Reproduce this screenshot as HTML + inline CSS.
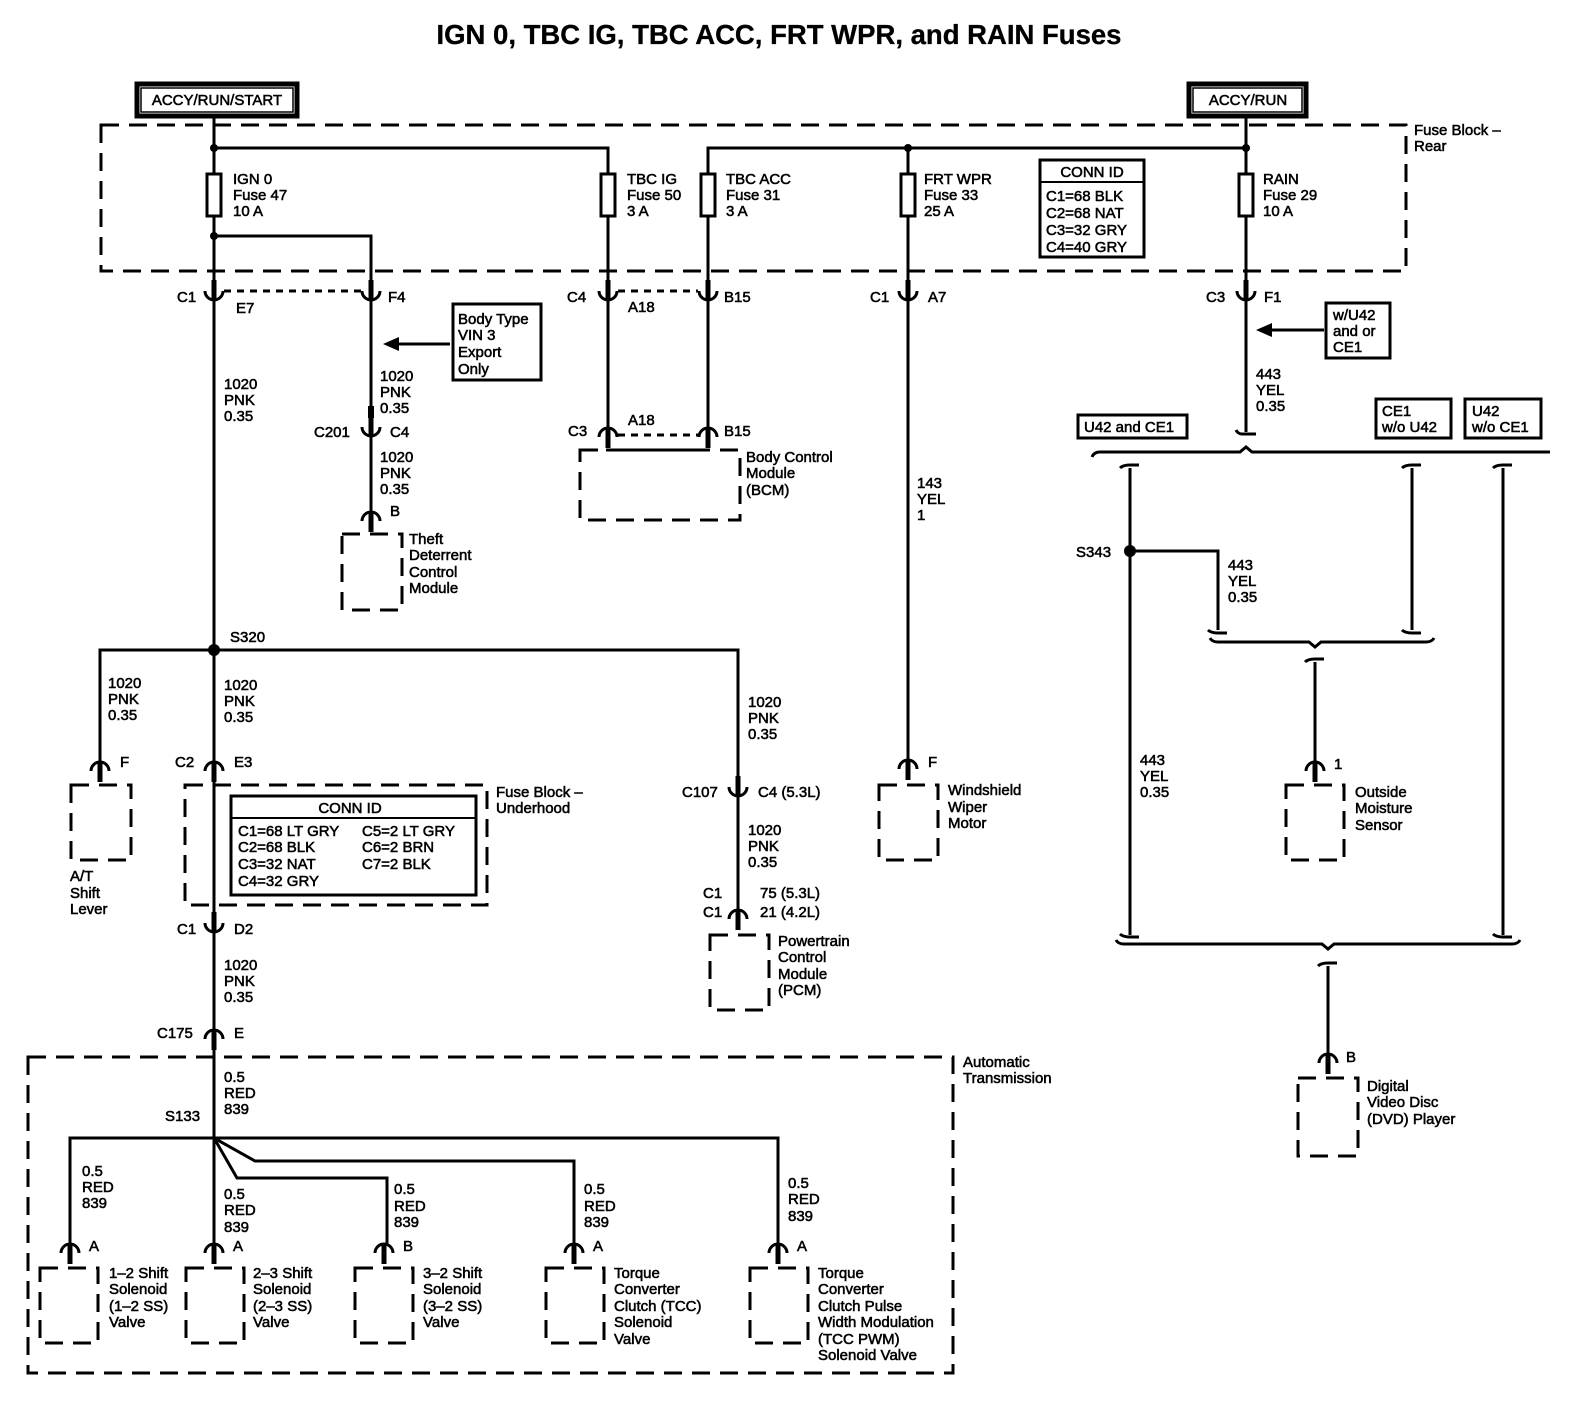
<!DOCTYPE html>
<html><head><meta charset="utf-8"><style>
html,body{margin:0;padding:0;background:#fff;}
svg{display:block;}
text{font-family:"Liberation Sans",Arial,sans-serif;font-size:15px;fill:#000;stroke:#000;stroke-width:0.55;}
.t{font-size:27.5px;font-weight:bold;stroke-width:0.3;}
.w{stroke:#000;stroke-width:3;fill:none;}
.d{stroke:#000;stroke-width:3;fill:none;stroke-dasharray:18 10;}
.sd{stroke:#000;stroke-width:3;fill:none;stroke-dasharray:7 6;}
</style></head><body>
<svg width="1578" height="1408" viewBox="0 0 1578 1408" xmlns="http://www.w3.org/2000/svg">
<defs>
<g id="cu"><path d="M-9,-5 A9,9 0 0 0 9,-5" stroke="#000" stroke-width="3" fill="none"/><line x1="0" y1="-16" x2="0" y2="4" stroke="#000" stroke-width="5"/></g>
<g id="ca"><path d="M-9,5 A9,9 0 0 1 9,5" stroke="#000" stroke-width="3" fill="none"/><line x1="0" y1="-4" x2="0" y2="16" stroke="#000" stroke-width="5"/></g>
<g id="fu"><rect x="-7" y="0" width="14" height="42" fill="#fff" stroke="#000" stroke-width="3"/></g>
<g id="bb"><path d="M-10,0 q2,4 6,4 h14" stroke="#000" stroke-width="3" fill="none"/></g>
</defs>

<text class="t" x="779" y="44" text-anchor="middle">IGN 0, TBC IG, TBC ACC, FRT WPR, and RAIN Fuses</text>

<rect x="137" y="84" width="160" height="32" fill="#fff" stroke="#000" stroke-width="5"/>
<rect x="141" y="88" width="152" height="24" fill="none" stroke="#000" stroke-width="1.5"/>
<text x="217" y="105" text-anchor="middle">ACCY/RUN/START</text>
<rect x="1189" y="84" width="117" height="32" fill="#fff" stroke="#000" stroke-width="5"/>
<rect x="1193" y="88" width="109" height="24" fill="none" stroke="#000" stroke-width="1.5"/>
<text x="1248" y="105" text-anchor="middle">ACCY/RUN</text>

<rect x="101" y="125" width="1305" height="146" class="d"/>
<text x="1414" y="135">Fuse Block –</text><text x="1414" y="151">Rear</text>

<path class="w" d="M214,118 V1138 M214,148 H608 V290 M708,290 V148 H1246 M1246,118 V290 M908,148 V290 M214,236 H371 V290"/>
<circle cx="214" cy="148" r="4"/><circle cx="908" cy="148" r="4"/><circle cx="1246" cy="148" r="4"/><circle cx="214" cy="236" r="4"/>
<use href="#fu" x="214" y="174"/><use href="#fu" x="608" y="174"/><use href="#fu" x="708" y="174"/><use href="#fu" x="908" y="174"/><use href="#fu" x="1246" y="174"/>
<text x="233" y="184">IGN 0</text><text x="233" y="200">Fuse 47</text><text x="233" y="216">10 A</text>
<text x="627" y="184">TBC IG</text><text x="627" y="200">Fuse 50</text><text x="627" y="216">3 A</text>
<text x="726" y="184">TBC ACC</text><text x="726" y="200">Fuse 31</text><text x="726" y="216">3 A</text>
<text x="924" y="184">FRT WPR</text><text x="924" y="200">Fuse 33</text><text x="924" y="216">25 A</text>
<text x="1263" y="184">RAIN</text><text x="1263" y="200">Fuse 29</text><text x="1263" y="216">10 A</text>

<rect x="1040" y="160" width="104" height="97" fill="#fff" stroke="#000" stroke-width="3"/>
<line x1="1040" y1="182" x2="1144" y2="182" stroke="#000" stroke-width="2"/>
<text x="1092" y="177" text-anchor="middle">CONN ID</text>
<text x="1046" y="201">C1=68 BLK</text><text x="1046" y="218">C2=68 NAT</text><text x="1046" y="235">C3=32 GRY</text><text x="1046" y="252">C4=40 GRY</text>

<line x1="224" y1="291" x2="362" y2="291" class="sd"/>
<line x1="618" y1="291" x2="698" y2="291" class="sd"/>
<use href="#cu" x="214" y="296"/><use href="#cu" x="371" y="296"/><use href="#cu" x="608" y="296"/><use href="#cu" x="708" y="296"/><use href="#cu" x="908" y="296"/><use href="#cu" x="1246" y="296"/>
<text x="177" y="302">C1</text><text x="236" y="313">E7</text><text x="388" y="302">F4</text>
<text x="567" y="302">C4</text><text x="628" y="312">A18</text><text x="724" y="302">B15</text>
<text x="870" y="302">C1</text><text x="928" y="302">A7</text>
<text x="1206" y="302">C3</text><text x="1264" y="302">F1</text>

<text x="224" y="389">1020</text><text x="224" y="405">PNK</text><text x="224" y="421">0.35</text>

<path class="w" d="M371,300 V515"/>
<line x1="371" y1="406" x2="371" y2="418" stroke="#000" stroke-width="6"/>
<rect x="453" y="304" width="88" height="76" fill="#fff" stroke="#000" stroke-width="3"/>
<text x="458" y="324">Body Type</text><text x="458" y="340">VIN 3</text><text x="458" y="357">Export</text><text x="458" y="374">Only</text>
<line x1="450" y1="344" x2="395" y2="344" stroke="#000" stroke-width="3"/><polygon points="383,344 399,337 399,351"/>
<text x="380" y="381">1020</text><text x="380" y="397">PNK</text><text x="380" y="413">0.35</text>
<use href="#cu" x="371" y="432"/>
<text x="314" y="437">C201</text><text x="390" y="437">C4</text>
<text x="380" y="462">1020</text><text x="380" y="478">PNK</text><text x="380" y="494">0.35</text>
<use href="#ca" x="371" y="516"/><text x="390" y="516">B</text>
<rect x="342" y="534" width="60" height="76" class="d" stroke-dasharray="14 10"/>
<text x="409" y="544">Theft</text><text x="409" y="560">Deterrent</text><text x="409" y="577">Control</text><text x="409" y="593">Module</text>

<path class="w" d="M608,300 V430 M708,300 V430"/>
<line x1="618" y1="435" x2="698" y2="435" class="sd"/>
<use href="#ca" x="608" y="432"/><use href="#ca" x="708" y="432"/>
<text x="568" y="436">C3</text><text x="628" y="425">A18</text><text x="724" y="436">B15</text>
<line x1="606" y1="450" x2="710" y2="450" stroke="#000" stroke-width="3"/>
<rect x="580" y="450" width="160" height="70" class="d" stroke-dasharray="14 10"/>
<text x="746" y="462">Body Control</text><text x="746" y="478">Module</text><text x="746" y="495">(BCM)</text>

<path class="w" d="M908,300 V762"/>
<text x="917" y="488">143</text><text x="917" y="504">YEL</text><text x="917" y="520">1</text>
<use href="#ca" x="908" y="764"/><text x="928" y="767">F</text>
<rect x="879" y="785" width="59" height="75" class="d" stroke-dasharray="14 10"/>
<text x="948" y="795">Windshield</text><text x="948" y="812">Wiper</text><text x="948" y="828">Motor</text>

<path class="w" d="M1246,300 V432"/>
<use href="#bb" x="1246" y="430"/>
<rect x="1326" y="303" width="64" height="55" fill="#fff" stroke="#000" stroke-width="3"/>
<text x="1333" y="320">w/U42</text><text x="1333" y="336">and or</text><text x="1333" y="352">CE1</text>
<line x1="1324" y1="330" x2="1268" y2="330" stroke="#000" stroke-width="3"/><polygon points="1256,330 1272,323 1272,337"/>
<text x="1256" y="379">443</text><text x="1256" y="395">YEL</text><text x="1256" y="411">0.35</text>
<rect x="1078" y="415" width="109" height="23" fill="#fff" stroke="#000" stroke-width="3"/><text x="1084" y="432">U42 and CE1</text>
<rect x="1376" y="399" width="75" height="39" fill="#fff" stroke="#000" stroke-width="3"/><text x="1382" y="416">CE1</text><text x="1382" y="432">w/o U42</text>
<rect x="1465" y="399" width="76" height="39" fill="#fff" stroke="#000" stroke-width="3"/><text x="1472" y="416">U42</text><text x="1472" y="432">w/o CE1</text>
<path class="w" d="M1092,457 q2,-5 8,-5 H1240 l6,-5 l6,5 H1550"/>
<path class="w" d="M1130,468 V935 M1412,468 V630 M1503,468 V935 M1130,551 H1218 V630"/>
<path class="w" d="M1120,468 q3,-3 10,-3 h9 M1402,468 q3,-3 10,-3 h9 M1493,468 q3,-3 10,-3 h9"/>
<path class="w" d="M1208,630 q3,3 10,3 h9 M1402,630 q3,3 10,3 h9 M1120,934 q3,3 10,3 h9 M1493,934 q3,3 10,3 h9"/>
<circle cx="1130" cy="551" r="6"/>
<text x="1076" y="557">S343</text>
<text x="1228" y="570">443</text><text x="1228" y="586">YEL</text><text x="1228" y="602">0.35</text>
<path class="w" d="M1210,638 q2,4 8,4 H1309 l6,5 l6,-5 H1426 q6,0 8,-4"/>
<path class="w" d="M1315,662 V764 M1305,662 q3,-3 10,-3 h9"/>
<use href="#ca" x="1315" y="766"/><text x="1334" y="769">1</text>
<rect x="1286" y="785" width="58" height="75" class="d" stroke-dasharray="14 10"/>
<text x="1355" y="797">Outside</text><text x="1355" y="813">Moisture</text><text x="1355" y="830">Sensor</text>
<text x="1140" y="765">443</text><text x="1140" y="781">YEL</text><text x="1140" y="797">0.35</text>
<path class="w" d="M1116,940 q2,4 8,4 H1322 l6,5 l6,-5 H1512 q6,0 8,-4"/>
<path class="w" d="M1328,966 V1056 M1318,966 q3,-3 10,-3 h9"/>
<use href="#ca" x="1328" y="1058"/><text x="1346" y="1062">B</text>
<rect x="1298" y="1078" width="60" height="78" class="d" stroke-dasharray="14 10"/>
<text x="1367" y="1091">Digital</text><text x="1367" y="1107">Video Disc</text><text x="1367" y="1124">(DVD) Player</text>

<circle cx="214" cy="650" r="6"/>
<text x="230" y="642">S320</text>
<path class="w" d="M100,764 V650 H738 V790"/>
<text x="108" y="688">1020</text><text x="108" y="704">PNK</text><text x="108" y="720">0.35</text>
<text x="224" y="690">1020</text><text x="224" y="706">PNK</text><text x="224" y="722">0.35</text>
<text x="748" y="707">1020</text><text x="748" y="723">PNK</text><text x="748" y="739">0.35</text>
<use href="#ca" x="100" y="766"/><text x="120" y="767">F</text>
<rect x="71" y="785" width="60" height="75" class="d" stroke-dasharray="14 10"/>
<text x="70" y="881">A/T</text><text x="70" y="898">Shift</text><text x="70" y="914">Lever</text>
<use href="#ca" x="214" y="766"/><text x="175" y="767">C2</text><text x="234" y="767">E3</text>

<rect x="185" y="785" width="302" height="120" class="d" stroke-dasharray="14 10"/>
<text x="496" y="797">Fuse Block –</text><text x="496" y="813">Underhood</text>
<rect x="231" y="796" width="245" height="99" fill="#fff" stroke="#000" stroke-width="3"/>
<line x1="231" y1="818" x2="476" y2="818" stroke="#000" stroke-width="2"/>
<text x="350" y="813" text-anchor="middle">CONN ID</text>
<text x="238" y="836">C1=68 LT GRY</text><text x="362" y="836">C5=2 LT GRY</text>
<text x="238" y="852">C2=68 BLK</text><text x="362" y="852">C6=2 BRN</text>
<text x="238" y="869">C3=32 NAT</text><text x="362" y="869">C7=2 BLK</text>
<text x="238" y="886">C4=32 GRY</text>

<use href="#cu" x="214" y="928"/><text x="177" y="934">C1</text><text x="234" y="934">D2</text>
<text x="224" y="970">1020</text><text x="224" y="986">PNK</text><text x="224" y="1002">0.35</text>
<use href="#ca" x="214" y="1034"/><text x="157" y="1038">C175</text><text x="234" y="1038">E</text>

<use href="#cu" x="738" y="792"/><text x="682" y="797">C107</text><text x="758" y="797">C4 (5.3L)</text>
<path class="w" d="M738,796 V912"/>
<text x="748" y="835">1020</text><text x="748" y="851">PNK</text><text x="748" y="867">0.35</text>
<use href="#ca" x="738" y="914"/>
<text x="703" y="898">C1</text><text x="703" y="917">C1</text><text x="760" y="898">75 (5.3L)</text><text x="760" y="917">21 (4.2L)</text>
<rect x="710" y="935" width="59" height="75" class="d" stroke-dasharray="14 10"/>
<text x="778" y="946">Powertrain</text><text x="778" y="962">Control</text><text x="778" y="979">Module</text><text x="778" y="995">(PCM)</text>

<rect x="28" y="1057" width="925" height="316" class="d" stroke-dasharray="18 10"/>
<text x="963" y="1067">Automatic</text><text x="963" y="1083">Transmission</text>
<text x="224" y="1082">0.5</text><text x="224" y="1098">RED</text><text x="224" y="1114">839</text>
<text x="165" y="1121">S133</text>
<path class="w" d="M70,1246 V1138 H778 V1246 M214,1138 V1246 M214,1138 L255,1161 H574 V1246 M214,1138 L237,1178 H387 V1246"/>
<text x="82" y="1176">0.5</text><text x="82" y="1192">RED</text><text x="82" y="1208">839</text>
<text x="224" y="1199">0.5</text><text x="224" y="1215">RED</text><text x="224" y="1232">839</text>
<text x="394" y="1194">0.5</text><text x="394" y="1211">RED</text><text x="394" y="1227">839</text>
<text x="584" y="1194">0.5</text><text x="584" y="1211">RED</text><text x="584" y="1227">839</text>
<text x="788" y="1188">0.5</text><text x="788" y="1204">RED</text><text x="788" y="1221">839</text>
<use href="#ca" x="70" y="1248"/><text x="89" y="1251">A</text>
<use href="#ca" x="214" y="1248"/><text x="233" y="1251">A</text>
<use href="#ca" x="384" y="1248"/><text x="403" y="1251">B</text>
<use href="#ca" x="574" y="1248"/><text x="593" y="1251">A</text>
<use href="#ca" x="778" y="1248"/><text x="797" y="1251">A</text>
<rect x="40" y="1268" width="58" height="75" class="d" stroke-dasharray="14 10"/>
<rect x="186" y="1268" width="58" height="75" class="d" stroke-dasharray="14 10"/>
<rect x="355" y="1268" width="58" height="75" class="d" stroke-dasharray="14 10"/>
<rect x="546" y="1268" width="58" height="75" class="d" stroke-dasharray="14 10"/>
<rect x="750" y="1268" width="58" height="75" class="d" stroke-dasharray="14 10"/>
<text x="109" y="1278">1–2 Shift</text><text x="109" y="1294">Solenoid</text><text x="109" y="1311">(1–2 SS)</text><text x="109" y="1327">Valve</text>
<text x="253" y="1278">2–3 Shift</text><text x="253" y="1294">Solenoid</text><text x="253" y="1311">(2–3 SS)</text><text x="253" y="1327">Valve</text>
<text x="423" y="1278">3–2 Shift</text><text x="423" y="1294">Solenoid</text><text x="423" y="1311">(3–2 SS)</text><text x="423" y="1327">Valve</text>
<text x="614" y="1278">Torque</text><text x="614" y="1294">Converter</text><text x="614" y="1311">Clutch (TCC)</text><text x="614" y="1327">Solenoid</text><text x="614" y="1344">Valve</text>
<text x="818" y="1278">Torque</text><text x="818" y="1294">Converter</text><text x="818" y="1311">Clutch Pulse</text><text x="818" y="1327">Width Modulation</text><text x="818" y="1344">(TCC PWM)</text><text x="818" y="1360">Solenoid Valve</text>
</svg>
</body></html>
